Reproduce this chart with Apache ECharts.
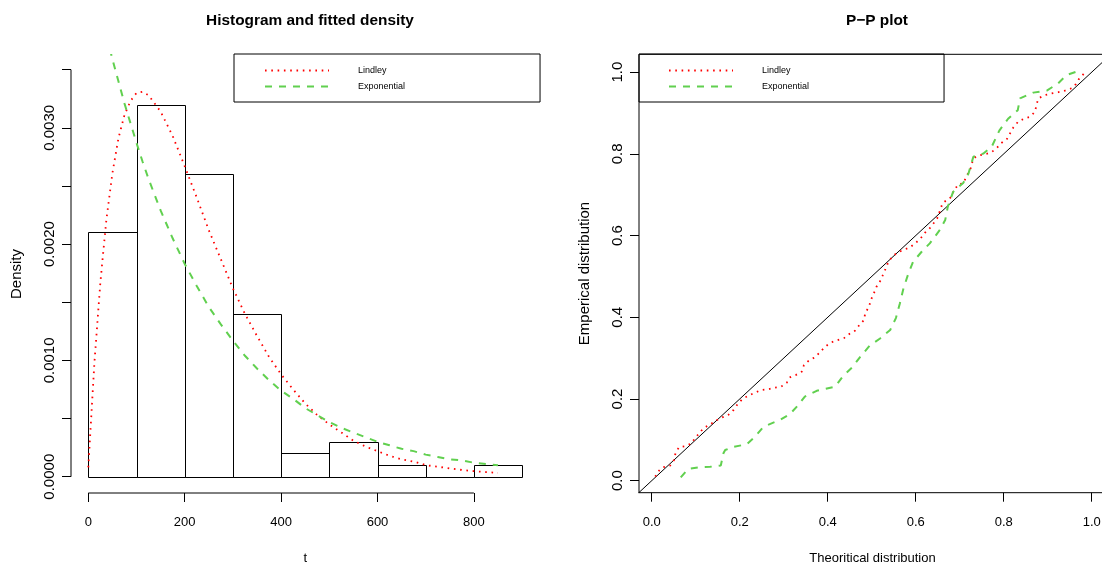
<!DOCTYPE html>
<html>
<head>
<meta charset="utf-8">
<script src="https://cdn.jsdelivr.net/npm/echarts@6/dist/echarts.min.js"></script>
<style>
  html, body { margin: 0; padding: 0; background: #fff; }
  #chart { width: 1102px; height: 567px; }
</style>
</head>
<body>
<div id="chart"></div>
<script>
// ---- Histogram of t (density scale) ----
const binStarts = [0, 100, 200, 300, 400, 500, 600, 700, 800];
const binWidth = 100;
const binDensity = [0.0021, 0.0032, 0.0026, 0.0014, 0.0002, 0.0003, 0.0001, 0, 0.0001];

// ---- Fitted density curves, sampled along t ----
const densityT = [0, 12.5, 25, 37.5, 50, 62.5, 75, 87.5, 100, 112.5, 125, 150, 175, 200, 225, 250, 275, 300,
  325, 350, 375, 400, 425, 450, 475, 500, 525, 550, 575, 600, 625, 650, 675, 700, 725, 750, 775, 800, 825, 850];
const lindleyDensity = [0.00008, 0.00097, 0.00167, 0.00221, 0.00261, 0.00291, 0.00311, 0.00323, 0.00330, 0.00331,
  0.00328, 0.00314, 0.00293, 0.00267, 0.00240, 0.00212, 0.00187, 0.00162, 0.00140, 0.00121, 0.00103, 0.00088,
  0.00075, 0.00063, 0.00053, 0.00045, 0.00038, 0.00031, 0.00026, 0.00022, 0.00018, 0.00015, 0.00013, 0.00010,
  0.000086, 0.000071, 0.000058, 0.000048, 0.000040, 0.000033];
const exponentialDensity = [0.00450, 0.00425, 0.00402, 0.00380, 0.00359, 0.00340, 0.00321, 0.00304, 0.00287, 0.00271,
  0.00256, 0.00229, 0.00205, 0.00183, 0.00164, 0.00146, 0.00131, 0.00117, 0.00104, 0.00093, 0.00083, 0.00074,
  0.00067, 0.00059, 0.00053, 0.00047, 0.00042, 0.00038, 0.00034, 0.00030, 0.00027, 0.00024, 0.00022, 0.00019,
  0.00017, 0.00015, 0.00014, 0.00012, 0.00011, 0.000098];

// ---- Histogram axes ----
const histXTicks = [0, 200, 400, 600, 800];
const histYTicks = [0, 0.0005, 0.0010, 0.0015, 0.0020, 0.0025, 0.0030, 0.0035];
const histYLabels = [0, 0.0010, 0.0020, 0.0030];

// ---- P-P plot: (theoretical, empirical) pairs ----
const ppLindley = [[0.008,0.010],[0.017,0.025],[0.026,0.033],[0.042,0.037],[0.051,0.051],[0.054,0.067],[0.062,0.082],
  [0.078,0.085],[0.091,0.092],[0.098,0.104],[0.108,0.116],[0.117,0.128],[0.133,0.138],[0.146,0.147],[0.158,0.154],
  [0.174,0.161],[0.186,0.173],[0.195,0.187],[0.206,0.200],[0.220,0.208],[0.235,0.216],[0.250,0.222],[0.265,0.224],
  [0.280,0.228],[0.294,0.230],[0.307,0.240],[0.314,0.253],[0.328,0.259],[0.341,0.267],[0.346,0.283],[0.358,0.295],
  [0.371,0.302],[0.382,0.314],[0.394,0.328],[0.407,0.338],[0.422,0.344],[0.437,0.349],[0.449,0.359],[0.462,0.367],
  [0.472,0.381],[0.483,0.394],[0.485,0.410],[0.494,0.426],[0.498,0.442],[0.505,0.459],[0.511,0.475],[0.520,0.490],
  [0.526,0.505],[0.532,0.520],[0.538,0.536],[0.548,0.550],[0.558,0.558],[0.572,0.565],[0.587,0.571],[0.601,0.583],
  [0.611,0.593],[0.621,0.607],[0.632,0.618],[0.642,0.632],[0.651,0.646],[0.655,0.661],[0.661,0.679],[0.673,0.689],
  [0.682,0.695],[0.685,0.707],[0.697,0.726],[0.708,0.728],[0.717,0.748],[0.725,0.765],[0.731,0.789],[0.742,0.796],
  [0.756,0.799],[0.771,0.803],[0.784,0.814],[0.794,0.826],[0.807,0.836],[0.822,0.865],[0.833,0.879],[0.846,0.886],
  [0.860,0.891],[0.871,0.903],[0.875,0.922],[0.879,0.936],[0.894,0.944],[0.909,0.948],[0.924,0.951],[0.939,0.955],
  [0.955,0.961],[0.964,0.971],[0.972,0.985],[0.983,0.997]];
const ppExponential = [[0.066,0.008],[0.083,0.029],[0.110,0.033],[0.133,0.034],[0.157,0.037],[0.163,0.067],
  [0.167,0.075],[0.186,0.083],[0.216,0.089],[0.235,0.108],[0.254,0.132],[0.292,0.149],[0.314,0.163],[0.333,0.185],
  [0.348,0.206],[0.375,0.220],[0.417,0.230],[0.434,0.255],[0.456,0.278],[0.473,0.302],[0.495,0.330],[0.519,0.348],
  [0.542,0.369],[0.555,0.398],[0.564,0.434],[0.572,0.470],[0.583,0.506],[0.594,0.536],[0.614,0.561],[0.632,0.581],
  [0.655,0.614],[0.667,0.638],[0.673,0.671],[0.685,0.707],[0.708,0.729],[0.720,0.752],[0.731,0.793],[0.754,0.801],
  [0.773,0.818],[0.790,0.857],[0.810,0.886],[0.832,0.907],[0.837,0.936],[0.867,0.950],[0.898,0.955],[0.924,0.973],
  [0.943,0.993],[0.973,1.004]];
const ppTicks = [0, 0.2, 0.4, 0.6, 0.8, 1.0];
const diagonalRange = [-0.1, 1.1];

// ---- Styling ----
const FONT = '"Liberation Sans", Arial, Helvetica, sans-serif';
const RED = '#FF0000';
const GREEN = '#61D04F';
const lindleyLine = { color: RED, width: 1.8, type: [1.6, 4.7], cap: 'butt' };
const expLine = { color: GREEN, width: 2, type: [7, 7], cap: 'butt' };

// Axis ranges (data units) for both panels
const histX = { min: -35.9, max: 936.1 };
const histY = { min: -0.00014, max: 0.003626 };
const ppX = { min: -0.0289, max: 1.0325 };
const ppY = { min: -0.0294, max: 1.0438 };

const chart = echarts.init(document.getElementById('chart'), null, { renderer: 'canvas' });

function xAxisCfg(gridIndex, range, ticks, name, digits) {
  return {
    type: 'value', gridIndex, min: range.min, max: range.max,
    name, nameLocation: 'middle', nameGap: 59,
    nameTextStyle: { fontFamily: FONT, fontSize: 13, color: '#000' },
    axisLine: { show: false, onZero: false },
    splitLine: { show: false },
    axisTick: { show: true, customValues: ticks, length: 9, lineStyle: { color: '#000', width: 1 } },
    axisLabel: { show: true, customValues: ticks, margin: 23, fontFamily: FONT, fontSize: 13, color: '#000',
      formatter: v => v.toFixed(digits) }
  };
}
function yAxisCfg(gridIndex, range, ticks, labels, name, digits) {
  return {
    type: 'value', gridIndex, min: range.min, max: range.max,
    name, nameLocation: 'middle', nameGap: 47, nameRotate: 90,
    nameTextStyle: { fontFamily: FONT, fontSize: 15, color: '#000' },
    axisLine: { show: false, onZero: false },
    splitLine: { show: false },
    axisTick: { show: true, customValues: ticks, length: 9, lineStyle: { color: '#000', width: 1 } },
    axisLabel: { show: true, customValues: labels, rotate: 90, align: 'center', verticalAlign: 'bottom',
      margin: 14, fontFamily: FONT, fontSize: 15, color: '#000',
      formatter: v => v.toFixed(digits) }
  };
}

const legendBase = {
  orient: 'vertical', top: 54, data: ['Lindley', 'Exponential'],
  itemWidth: 64, itemHeight: 10, itemGap: 7,
  borderColor: '#000', borderWidth: 1, borderRadius: 0,
  itemStyle: { opacity: 0 },
  selectedMode: false,
  textStyle: { fontFamily: FONT, fontSize: 9, color: '#000', padding: [0, 0, 0, 24] }
};

const histBins = binStarts.map((s, i) => [s, s + binWidth, binDensity[i]]);

const option = {
  backgroundColor: '#fff',
  animation: false,
  title: [
    { text: 'Histogram and fitted density', left: 305, top: 8, textAlign: 'center',
      textStyle: { fontFamily: FONT, fontSize: 15.4, fontWeight: 'bold', color: '#000' } },
    { text: 'P\u2212P plot', left: 872, top: 8, textAlign: 'center',
      textStyle: { fontFamily: FONT, fontSize: 15.4, fontWeight: 'bold', color: '#000' } }
  ],
  legend: [
    Object.assign({}, legendBase, { left: 234, padding: [12, 135, 11, 30] }),
    Object.assign({}, legendBase, { left: 639, padding: [12, 135, 11, 29] })
  ],
  grid: [
    { left: 71, top: 55, width: 468.5, height: 438, show: false, outerBoundsMode: 'none' },
    { left: 639, top: 54.3, width: 467, height: 438.4, show: true, borderColor: '#000', borderWidth: 1,
      backgroundColor: 'transparent', outerBoundsMode: 'none' }
  ],
  xAxis: [
    xAxisCfg(0, histX, histXTicks, 't', 0),
    xAxisCfg(1, ppX, ppTicks, 'Theoritical distribution', 1)
  ],
  yAxis: [
    yAxisCfg(0, histY, histYTicks, histYLabels, 'Density', 4),
    yAxisCfg(1, ppY, ppTicks, ppTicks, 'Emperical distribution', 1)
  ],
  series: [
    {
      type: 'custom', name: 'histogram', xAxisIndex: 0, yAxisIndex: 0, silent: true,
      data: histBins, encode: { x: [0, 1], y: 2 },
      renderItem: (params, api) => {
        const p0 = api.coord([api.value(0), api.value(2)]);
        const p1 = api.coord([api.value(1), 0]);
        const x0 = Math.round(p0[0]) + 0.5, x1 = Math.round(p1[0]) + 0.5;
        const y0 = Math.round(p0[1]) + 0.5, y1 = Math.round(p1[1]) + 0.5;
        return { type: 'rect', shape: { x: x0, y: y0, width: x1 - x0, height: y1 - y0 },
          style: { fill: 'none', stroke: '#000', lineWidth: 1 } };
      }
    },
    {
      type: 'line', name: 'axis-y-hist', xAxisIndex: 0, yAxisIndex: 0, silent: true, clip: false,
      symbol: 'none', lineStyle: { color: '#000', width: 1 },
      data: [[histX.min, histYTicks[0]], [histX.min, histYTicks[histYTicks.length - 1]]]
    },
    {
      type: 'line', name: 'axis-x-hist', xAxisIndex: 0, yAxisIndex: 0, silent: true, clip: false,
      symbol: 'none', lineStyle: { color: '#000', width: 1 },
      data: [[histXTicks[0], histY.min], [histXTicks[histXTicks.length - 1], histY.min]]
    },
    {
      type: 'line', name: 'Lindley', xAxisIndex: 0, yAxisIndex: 0, clip: true,
      symbol: 'none', showSymbol: false, lineStyle: lindleyLine, itemStyle: { color: RED },
      data: densityT.map((t, i) => [t, lindleyDensity[i]])
    },
    {
      type: 'line', name: 'Exponential', xAxisIndex: 0, yAxisIndex: 0, clip: true,
      symbol: 'none', showSymbol: false, lineStyle: expLine, itemStyle: { color: GREEN },
      data: densityT.map((t, i) => [t, exponentialDensity[i]])
    },
    {
      type: 'line', name: 'diagonal', xAxisIndex: 1, yAxisIndex: 1, clip: true, silent: true,
      symbol: 'none', lineStyle: { color: '#000', width: 1 },
      data: diagonalRange.map(v => [v, v])
    },
    {
      type: 'line', name: 'Lindley', xAxisIndex: 1, yAxisIndex: 1, clip: true,
      symbol: 'none', showSymbol: false, lineStyle: lindleyLine, itemStyle: { color: RED },
      data: ppLindley
    },
    {
      type: 'line', name: 'Exponential', xAxisIndex: 1, yAxisIndex: 1, clip: true,
      symbol: 'none', showSymbol: false, lineStyle: expLine, itemStyle: { color: GREEN },
      data: ppExponential
    }
  ]
};

chart.setOption(option);
</script>
</body>
</html>
